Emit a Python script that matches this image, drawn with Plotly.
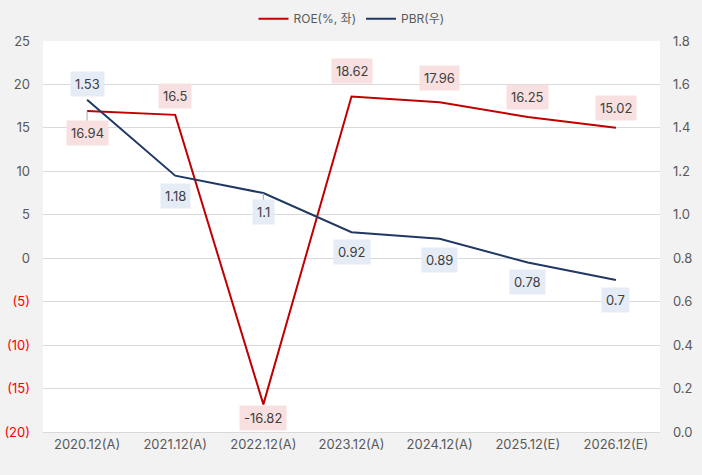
import plotly.graph_objects as go

years = ["2020.12(A)", "2021.12(A)", "2022.12(A)", "2023.12(A)", "2024.12(A)", "2025.12(E)", "2026.12(E)"]
roe = [16.94, 16.5, -16.82, 18.62, 17.96, 16.25, 15.02]
pbr = [1.53, 1.18, 1.1, 0.92, 0.89, 0.78, 0.7]

left_ticks = [25, 20, 15, 10, 5, 0, -5, -10, -15, -20]
left_text = [str(v) if v >= 0 else f"<span style='color:#ff0000'>({abs(v)})</span>" for v in left_ticks]
right_ticks = [0.0, 0.2, 0.4, 0.6, 0.8, 1.0, 1.2, 1.4, 1.6, 1.8]

# label offsets in px (ay), negative = above
roe_ay = [22, -19, 14, -25, -24, -20, -20]
pbr_ay = [-16, 20, 19, 20, 21, 19, 20]
roe_arrow = [True, False, False, False, False, False, False]
pbr_arrow = [False, False, True, False, False, False, False]

RED = "#c00000"
NAVY = "#203864"
FONT = "Inter, Noto Sans CJK KR, sans-serif"

fig = go.Figure()
fig.add_trace(go.Scatter(x=years, y=roe, mode="lines", name="ROE(%, 좌)",
                         line=dict(color=RED, width=2)))
fig.add_trace(go.Scatter(x=years, y=pbr, mode="lines", name="PBR(우)", yaxis="y2",
                         line=dict(color=NAVY, width=2)))

for x, v, ay, arr in zip(years, roe, roe_ay, roe_arrow):
    fig.add_annotation(x=x, y=v, yref="y", text=str(v), showarrow=arr,
                       arrowhead=0, arrowwidth=1, arrowcolor="#a6a6a6", ax=0, ay=ay,
                       yshift=0 if arr else -ay, bgcolor="#f8e0e0", borderpad=4,
                       font=dict(size=13, color="#404040"))
for x, v, ay, arr in zip(years, pbr, pbr_ay, pbr_arrow):
    fig.add_annotation(x=x, y=v, yref="y2", text=str(v), showarrow=arr,
                       arrowhead=0, arrowwidth=1, arrowcolor="#a6a6a6", ax=0, ay=ay,
                       yshift=0 if arr else -ay, bgcolor="#e6ecf6", borderpad=4,
                       font=dict(size=13, color="#404040"))

fig.update_layout(
    width=702, height=475,
    margin=dict(l=43, r=42, t=41, b=43, autoexpand=False),
    paper_bgcolor="#f2f2f2", plot_bgcolor="#ffffff",
    font=dict(family=FONT, size=12, color="#595959"),
    showlegend=True,
    legend=dict(orientation="h", x=0.5, xanchor="center", y=1.02, yanchor="bottom",
                font=dict(size=12, color="#595959"), bgcolor="rgba(0,0,0,0)"),
    xaxis=dict(type="category", range=[-0.5, 6.5], showgrid=False, zeroline=False,
               showline=True, linecolor="#d9d9d9", ticks="", tickfont=dict(size=13),
               automargin=False),
    yaxis=dict(range=[-20, 25], tickvals=left_ticks, ticktext=left_text,
               showgrid=True, gridcolor="#d9d9d9", zeroline=False, ticks="",
               ticklabelstandoff=12, tickfont=dict(size=13), automargin=False),
    yaxis2=dict(range=[0, 1.8], tickvals=right_ticks, tickformat=".1f", overlaying="y",
                side="right", showgrid=False, zeroline=False, ticks="",
                ticklabelstandoff=12, tickfont=dict(size=13), automargin=False),
)

fig.write_html("out.html", config={"displayModeBar": False},
               post_script="document.body.style.margin='0';")
